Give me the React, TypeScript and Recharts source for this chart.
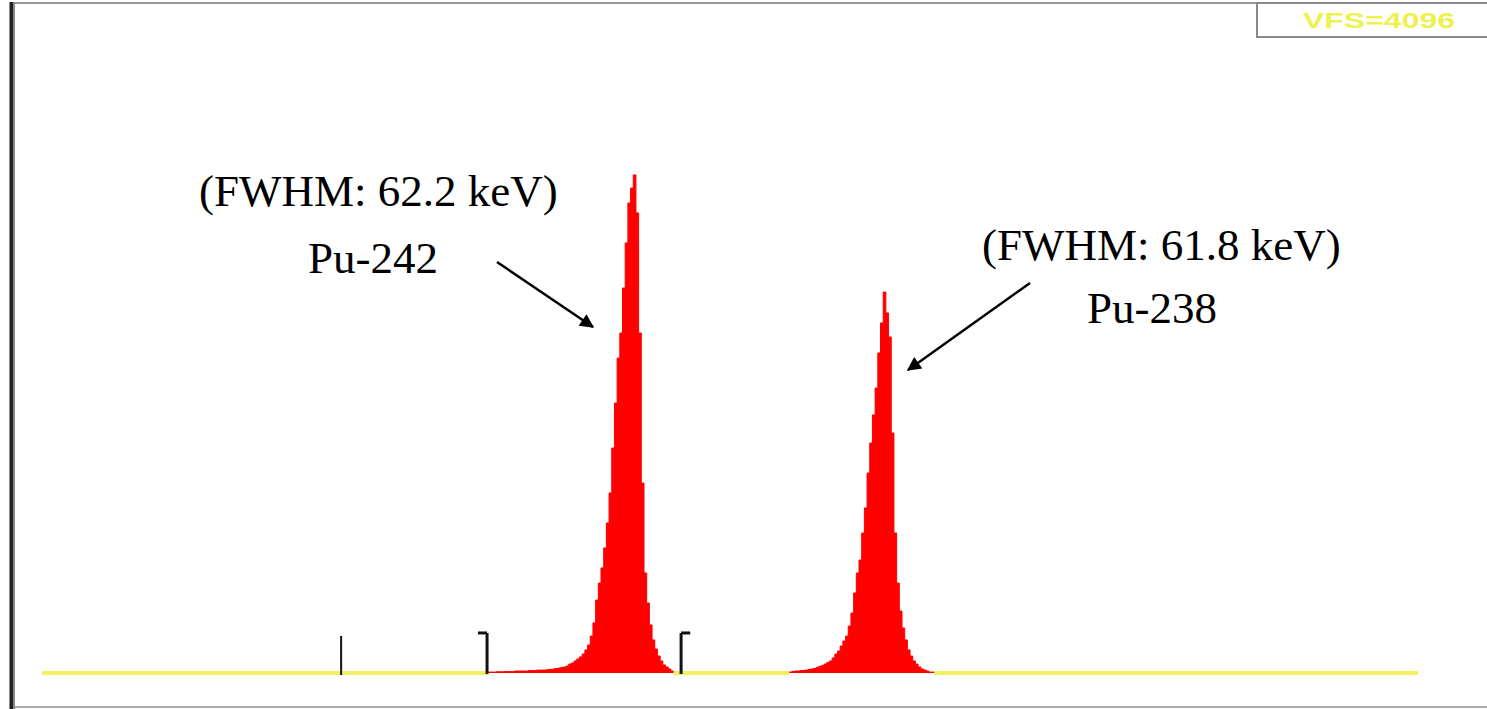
import { Area, ComposedChart, Line, ReferenceLine, XAxis, YAxis } from "recharts";

const CHANNELS = 512;
const FULL_SCALE = 4096;

// ROI 1: Pu-242 peak, counts per channel from channel 166
const pu242Start = 166;
const pu242Counts = [
  6, 6, 6, 8, 8, 8, 10, 10, 10, 10, 13, 13, 13, 13, 13, 16, 16, 16, 19, 19,
  19, 19, 23, 23, 26, 29, 32, 36, 39, 45, 58, 65, 78, 91, 104, 123, 149, 181, 239, 324,
  472, 582, 680, 809, 971, 1165, 1456, 1747, 2038, 2200, 2491, 2783, 3041, 3138, 3223, 2977, 2200, 1229, 647, 453,
  311, 214, 155, 110, 78, 52, 39, 26, 13, 0,
];

// ROI 2: Pu-238 peak, counts per channel from channel 278
const pu238Start = 278;
const pu238Counts = [
  6, 10, 13, 13, 16, 17, 19, 23, 26, 29, 36, 43, 49, 58, 68, 78, 97, 123, 142, 175,
  207, 239, 304, 388, 518, 647, 731, 906, 1068, 1294, 1488, 1670, 1844, 2071, 2265, 2465, 2330, 2174, 1553, 906,
  582, 401, 291, 214, 149, 110, 78, 58, 39, 26, 19, 13, 6, 6, 0,
];

// cursor tick and ROI bracket channels
const cursorChannel = 111.3;
const roiLeftEdge = 165.6;
const roiRightEdge = 237.8;
const bracketCounts = 259;
const cursorCounts = 240;

const inside = (ch: number, start: number, len: number) => ch > start && ch < start + len - 1;

const data = Array.from({ length: CHANNELS + 1 }, (_, ch) => {
  let roi: number | null = null;
  if (ch >= pu242Start && ch < pu242Start + pu242Counts.length) roi = pu242Counts[ch - pu242Start];
  if (ch >= pu238Start && ch < pu238Start + pu238Counts.length) roi = pu238Counts[ch - pu238Start];
  const covered = inside(ch, pu242Start, pu242Counts.length) || inside(ch, pu238Start, pu238Counts.length);
  return { ch, base: covered ? null : 0, roi };
});

const serif = '"Liberation Serif", "Times New Roman", serif';

export default function App() {
  return (
    <div style={{ position: "absolute", left: 0, top: 0, width: 1487, height: 709, background: "#fff", overflow: "hidden" }}>
      <ComposedChart width={1487} height={709} data={data} margin={{ top: 40, right: 69, bottom: 36, left: 42 }}>
        <XAxis dataKey="ch" type="number" domain={[0, CHANNELS]} hide />
        <YAxis type="number" domain={[0, FULL_SCALE]} hide />
        <Line
          dataKey="base"
          type="linear"
          stroke="#f0f060"
          strokeWidth={4}
          dot={false}
          activeDot={false}
          connectNulls={false}
          isAnimationActive={false}
        />
        <Area
          dataKey="roi"
          type="stepAfter"
          stroke="#ff0000"
          strokeWidth={1}
          fill="#ff0000"
          fillOpacity={1}
          connectNulls={false}
          isAnimationActive={false}
        />
        <ReferenceLine
          segment={[{ x: cursorChannel, y: -13 }, { x: cursorChannel, y: cursorCounts }]}
          stroke="#111"
          strokeWidth={2}
          ifOverflow="visible"
        />
        <ReferenceLine
          segment={[{ x: roiLeftEdge, y: -6 }, { x: roiLeftEdge, y: bracketCounts }]}
          stroke="#111"
          strokeWidth={3}
          ifOverflow="visible"
        />
        <ReferenceLine
          segment={[{ x: roiLeftEdge - 3.4, y: bracketCounts }, { x: roiLeftEdge, y: bracketCounts }]}
          stroke="#111"
          strokeWidth={3}
          ifOverflow="visible"
        />
        <ReferenceLine
          segment={[{ x: roiRightEdge, y: -6 }, { x: roiRightEdge, y: bracketCounts }]}
          stroke="#111"
          strokeWidth={3}
          ifOverflow="visible"
        />
        <ReferenceLine
          segment={[{ x: roiRightEdge, y: bracketCounts }, { x: roiRightEdge + 3.4, y: bracketCounts }]}
          stroke="#111"
          strokeWidth={3}
          ifOverflow="visible"
        />
      </ComposedChart>

      <svg width={1487} height={709} style={{ position: "absolute", left: 0, top: 0, pointerEvents: "none" }}>
        <defs>
          <marker id="head" viewBox="0 0 10 10" refX="9" refY="5" markerWidth="18" markerHeight="14" orient="auto" markerUnits="userSpaceOnUse">
            <path d="M0,0 L10,5 L0,10 z" fill="#000" />
          </marker>
        </defs>

        {/* frame */}
        <line x1={10} y1={3} x2={1487} y2={3} stroke="#999" strokeWidth={2} />
        <line x1={10} y1={707} x2={1487} y2={707} stroke="#aaa" strokeWidth={2} />
        <rect x={9} y={2} width={6} height={707} fill="#888" />
        <rect x={10} y={2} width={3} height={707} fill="#222" />

        {/* VFS box */}
        <rect x={1257} y={3} width={232} height={34} fill="#fff" stroke="#8a8a8a" strokeWidth={2} />
        <text
          x={1303}
          y={28}
          fontFamily="Arial, 'Liberation Sans', sans-serif"
          fontWeight="bold"
          fontSize={22}
          textLength={152}
          lengthAdjust="spacingAndGlyphs"
          fill="#eef24e"
        >
          VFS=4096
        </text>

        {/* annotations */}
        <text x={199} y={206} fontFamily={serif} fontSize={45} fill="#000">
          (FWHM: 62.2 keV)
        </text>
        <text x={308} y={273} fontFamily={serif} fontSize={45} fill="#000">
          Pu-242
        </text>
        <line x1={497} y1={262} x2={593} y2={327} stroke="#000" strokeWidth={2.5} markerEnd="url(#head)" />

        <text x={982} y={260} fontFamily={serif} fontSize={45} fill="#000">
          (FWHM: 61.8 keV)
        </text>
        <text x={1087} y={323} fontFamily={serif} fontSize={45} fill="#000">
          Pu-238
        </text>
        <line x1={1030} y1={283} x2={908} y2={370} stroke="#000" strokeWidth={2.5} markerEnd="url(#head)" />
      </svg>
    </div>
  );
}
